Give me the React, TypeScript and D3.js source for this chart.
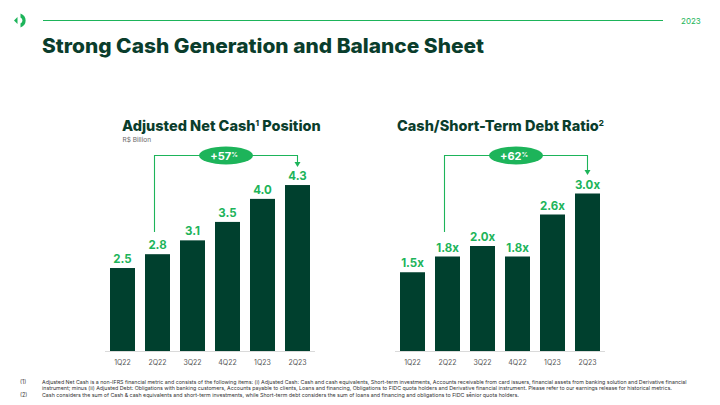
import React from "react";
import * as d3 from "d3";

const categories = ["1Q22", "2Q22", "3Q22", "4Q22", "1Q23", "2Q23"];
const netCash = [2.5, 2.8, 3.1, 3.5, 4.0, 4.3];
const netCashLabels = ["2.5", "2.8", "3.1", "3.5", "4.0", "4.3"];
const ratio = [1.5, 1.8, 2.0, 1.8, 2.6, 3.0];
const ratioLabels = ["1.5x", "1.8x", "2.0x", "1.8x", "2.6x", "3.0x"];
const growthLeft = "+57";
const growthRight = "+62";

const footnotes = [
  { mark: "(1)", lines: [
    "Adjusted Net Cash is a non-IFRS financial metric and consists of the following items: (i) Adjusted Cash: Cash and cash equivalents, Short-term investments, Accounts receivable from card issuers, financial assets from banking solution and Derivative financial",
    "instrument; minus (ii) Adjusted Debt: Obligations with banking customers, Accounts payable to clients, Loans and financing, Obligations to FIDC quota holders and Derivative financial instrument. Please refer to our earnings release for historical metrics.",
  ]},
  { mark: "(2)", lines: [
    "Cash considers the sum of Cash & cash equivalents and short-term investments, while Short-term debt considers the sum of loans and financing and obligations to FIDC sênior quota holders.",
  ]},
];

const DARK = "#00402E";
const TITLE = "#0A3D2C";
const GREEN = "#1DB45A";
const FONT = "Inter, 'Noto Sans', sans-serif";

type PanelProps = {
  x0: number; values: number[]; labels: string[]; domain: [number, number];
  title: React.ReactNode; titleX: number; subtitle?: string; growth: string; arrowTip: number;
};

function Panel({ x0, values, labels, domain, title, titleX, subtitle, growth, arrowTip }: PanelProps) {
  const baseline = 351;
  const x = d3.scaleBand<string>().domain(categories).range([x0, x0 + 210]).paddingInner(10 / 35).paddingOuter(5 / 35);
  const y = d3.scaleLinear().domain(domain).range([baseline, baseline - 166]);
  const bw = x.bandwidth();
  const x1 = (x(categories[1]) as number) + bw / 2 - 3;
  const x2 = (x(categories[5]) as number) + bw / 2;
  const topY = 155.5;
  const midX = (x1 + x2) / 2;
  return (
    <g>
      <text x={titleX} y={131} fontFamily={FONT} fontWeight={800} fontSize={14.5} fill={TITLE}>{title}</text>
      {subtitle && <text x={titleX + 0.5} y={141.5} fontFamily={FONT} fontSize={6.5} fill="#666">{subtitle}</text>}
      <line x1={x0} x2={x0 + 210} y1={baseline + 0.5} y2={baseline + 0.5} stroke="#DADADA" strokeWidth={1.2} />
      {values.map((v, i) => (
        <g key={i}>
          <rect x={x(categories[i])} y={y(v)} width={bw} height={baseline - y(v)} fill={DARK} />
          <text x={(x(categories[i]) as number) + bw / 2} y={y(v) - 5} textAnchor="middle" fontFamily={FONT} fontWeight={700} fontSize={11.5} fill={GREEN}>{labels[i]}</text>
          <text x={(x(categories[i]) as number) + bw / 2} y={365} textAnchor="middle" fontFamily={FONT} fontSize={7} fill="#555">{categories[i]}</text>
        </g>
      ))}
      <path d={`M${x1},232 V${topY} H${x2} V${arrowTip - 4}`} fill="none" stroke={GREEN} strokeWidth={1.1} />
      <path d={`M${x2 - 3},${arrowTip - 5} L${x2 + 3},${arrowTip - 5} L${x2},${arrowTip} Z`} fill={GREEN} />
      <ellipse cx={midX} cy={topY} rx={27} ry={9} fill={GREEN} />
      <text x={midX - 2} y={topY + 4} textAnchor="middle" fontFamily={FONT} fontWeight={700} fontSize={11} fill="#fff">
        {growth}<tspan fontSize={6.5} dy={-3}>%</tspan>
      </text>
    </g>
  );
}

export default function App() {
  return (
    <svg width={720} height={405} style={{ position: "absolute", left: 0, top: 0, background: "#fff" }}>
      <rect width={720} height={405} fill="#fff" />
      <path d="M14,20.5 L17.5,17 L17.5,24 Z" fill={GREEN} />
      <path d="M20.5,13.5 A8,7.5 0 0 1 20.5,27.5 L20.5,23.5 A4,3.5 0 0 0 20.5,17.5 Z" fill={GREEN} />
      <line x1={43} x2={663} y1={20.5} y2={20.5} stroke={GREEN} strokeWidth={1.2} />
      <text x={681} y={23.5} fontFamily={FONT} fontSize={8} fill={GREEN}>2023</text>
      <text x={42} y={53} fontFamily={FONT} fontWeight={800} fontSize={20} fill={TITLE} textLength={442} lengthAdjust="spacingAndGlyphs">Strong Cash Generation and Balance Sheet</text>

      <Panel x0={105} values={netCash} labels={netCashLabels}
        domain={[0.7, 0.7 + 166 / 46.1]}
        title={<>Adjusted Net Cash<tspan fontSize={8} dy={-5}>1</tspan><tspan dy={5}> Position</tspan></>}
        titleX={122} subtitle="R$ Billion" growth={growthLeft} arrowTip={167} />
      <Panel x0={395} values={ratio} labels={ratioLabels}
        domain={[0, 166 / 52.5]}
        title={<>Cash/Short-Term Debt Ratio<tspan fontSize={8} dy={-5}>2</tspan></>}
        titleX={397} growth={growthRight} arrowTip={175} />

      {footnotes.map((f, i) => (
        <g key={i}>
          <text x={20} y={i === 0 ? 383.5 : 396.5} fontFamily={FONT} fontSize={5.5} fill="#333">{f.mark}</text>
          {f.lines.map((l, j) => (
            <text key={j} x={42} y={(i === 0 ? 383.5 : 396.5) + j * 6.5} fontFamily={FONT} fontSize={5.3} fill="#333">{l}</text>
          ))}
        </g>
      ))}
    </svg>
  );
}
